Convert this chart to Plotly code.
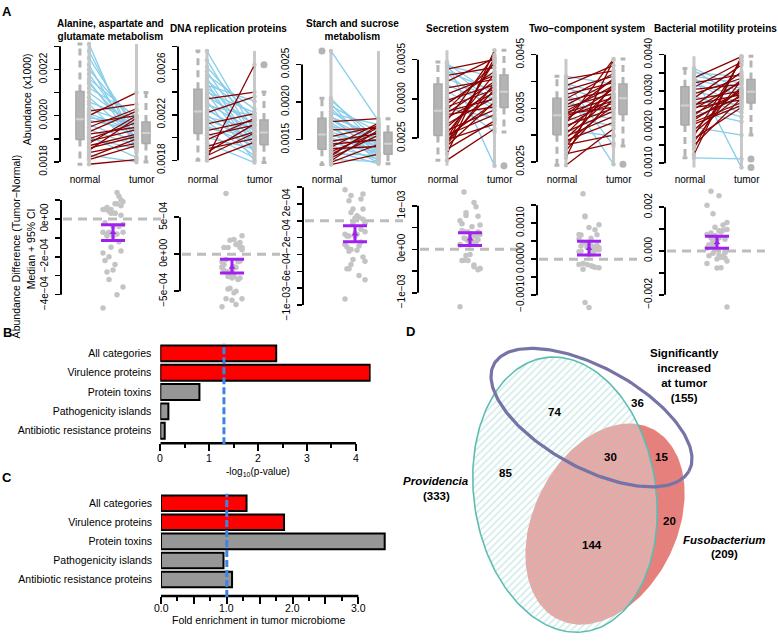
import numpy as np
import plotly.graph_objects as go

W, H = 778, 641
FONT = "Liberation Sans, Arial, Helvetica, sans-serif"

# ---------------- data ----------------
panel_titles = ["Alanine, aspartate and<br>glutamate metabolism", "DNA replication proteins",
                "Starch and sucrose<br>metabolism", "Secretion system",
                "Two\u2212component system", "Bacterial motility proteins"]
group_labels = ["normal", "tumor"]

normal_alanine = [0.00231, 0.00228, 0.00225, 0.00222, 0.00220, 0.00218, 0.00216, 0.00215, 0.00214, 0.00212,
                  0.00210, 0.00208, 0.00206, 0.00205, 0.00203, 0.00202, 0.00201, 0.00200, 0.00200, 0.00199,
                  0.00198, 0.00197, 0.00196, 0.00195, 0.00194, 0.00193, 0.00192, 0.00191, 0.00190, 0.00190,
                  0.00189, 0.00188, 0.00187, 0.00186, 0.00185, 0.00184, 0.00183, 0.00182, 0.00181, 0.00179]
tumor_alanine = [0.00184, 0.00188, 0.00193, 0.00186, 0.00196, 0.00190, 0.00199, 0.00188, 0.00192, 0.00200,
                 0.00195, 0.00190, 0.00198, 0.00185, 0.00196, 0.00205, 0.00193, 0.00210, 0.00191, 0.00197,
                 0.00194, 0.00200, 0.00189, 0.00203, 0.00187, 0.00202, 0.00195, 0.00182, 0.00197, 0.00186,
                 0.00194, 0.00200, 0.00192, 0.00191, 0.00199, 0.00188, 0.00180, 0.00190, 0.00187, 0.00181]

normal_dna = [0.00276, 0.00268, 0.00262, 0.00258, 0.00255, 0.00252, 0.00250, 0.00248, 0.00246, 0.00244,
              0.00242, 0.00240, 0.00238, 0.00236, 0.00234, 0.00232, 0.00230, 0.00228, 0.00226, 0.00224,
              0.00222, 0.00220, 0.00218, 0.00216, 0.00214, 0.00212, 0.00210, 0.00208, 0.00206, 0.00204,
              0.00202, 0.00200, 0.00198, 0.00195, 0.00192, 0.00190, 0.00187, 0.00184, 0.00182, 0.00180]
tumor_dna = [0.00205, 0.00200, 0.00215, 0.00198, 0.00225, 0.00192, 0.00218, 0.00186, 0.00232, 0.00210,
             0.00196, 0.00222, 0.00188, 0.00212, 0.00240, 0.00180, 0.00206, 0.00219, 0.00194, 0.00202,
             0.00236, 0.00190, 0.00208, 0.00198, 0.00184, 0.00221, 0.00193, 0.00201, 0.00215, 0.00182,
             0.00211, 0.00190, 0.00217, 0.00178, 0.00205, 0.00199, 0.00212, 0.00204, 0.00264, 0.00196]

normal_starch = [0.00268, 0.00205, 0.00202, 0.00198, 0.00195, 0.00192, 0.00188, 0.00185, 0.00182, 0.00180,
                 0.00178, 0.00176, 0.00174, 0.00172, 0.00170, 0.00168, 0.00166, 0.00163, 0.00160, 0.00158,
                 0.00156, 0.00154, 0.00152, 0.00150, 0.00148, 0.00146, 0.00144, 0.00142, 0.00140, 0.00138,
                 0.00136, 0.00134, 0.00132, 0.00130, 0.00128, 0.00126, 0.00124, 0.00122, 0.00120, 0.00117]
tumor_starch = [0.00175, 0.00140, 0.00150, 0.00128, 0.00160, 0.00135, 0.00145, 0.00170, 0.00125, 0.00155,
                0.00132, 0.00148, 0.00178, 0.00138, 0.00122, 0.00152, 0.00130, 0.00165, 0.00142, 0.00127,
                0.00146, 0.00168, 0.00136, 0.00120, 0.00158, 0.00133, 0.00150, 0.00124, 0.00172, 0.00141,
                0.00118, 0.00160, 0.00129, 0.00167, 0.00170, 0.00156, 0.00121, 0.00163, 0.00144, 0.00131]

normal_secretion = [0.00347, 0.00345, 0.00342, 0.00340, 0.00338, 0.00335, 0.00332, 0.00330, 0.00326, 0.00322,
                    0.00318, 0.00314, 0.00310, 0.00306, 0.00302, 0.00298, 0.00294, 0.00290, 0.00288, 0.00286,
                    0.00284, 0.00282, 0.00280, 0.00276, 0.00272, 0.00268, 0.00264, 0.00260, 0.00256, 0.00254,
                    0.00252, 0.00250, 0.00248, 0.00246, 0.00244, 0.00242, 0.00240, 0.00236, 0.00230, 0.00222]
tumor_secretion = [0.00215, 0.00305, 0.00328, 0.00296, 0.00350, 0.00310, 0.00285, 0.00340, 0.00300, 0.00352,
                   0.00292, 0.00325, 0.00274, 0.00330, 0.00258, 0.00318, 0.00335, 0.00312, 0.00276, 0.00345,
                   0.00300, 0.00322, 0.00290, 0.00308, 0.00356, 0.00302, 0.00316, 0.00286, 0.00332, 0.00280,
                   0.00295, 0.00348, 0.00268, 0.00312, 0.00352, 0.00320, 0.00296, 0.00272, 0.00362, 0.00262]

normal_twocomp = [0.00410, 0.00405, 0.00400, 0.00396, 0.00392, 0.00388, 0.00384, 0.00380, 0.00376, 0.00372,
                  0.00368, 0.00364, 0.00360, 0.00356, 0.00352, 0.00348, 0.00345, 0.00342, 0.00340, 0.00338,
                  0.00336, 0.00333, 0.00330, 0.00326, 0.00322, 0.00318, 0.00314, 0.00310, 0.00306, 0.00302,
                  0.00298, 0.00294, 0.00290, 0.00286, 0.00282, 0.00278, 0.00272, 0.00265, 0.00258, 0.00244]
tumor_twocomp = [0.00395, 0.00420, 0.00280, 0.00372, 0.00430, 0.00360, 0.00410, 0.00246, 0.00398, 0.00350,
                 0.00415, 0.00385, 0.00340, 0.00402, 0.00378, 0.00330, 0.00392, 0.00370, 0.00352, 0.00405,
                 0.00364, 0.00318, 0.00386, 0.00360, 0.00442, 0.00350, 0.00372, 0.00298, 0.00345, 0.00390,
                 0.00335, 0.00376, 0.00324, 0.00355, 0.00300, 0.00396, 0.00368, 0.00285, 0.00440, 0.00312]

normal_motility = [0.00362, 0.00356, 0.00350, 0.00344, 0.00340, 0.00336, 0.00332, 0.00328, 0.00322, 0.00316,
                   0.00310, 0.00304, 0.00298, 0.00292, 0.00286, 0.00280, 0.00275, 0.00270, 0.00265, 0.00262,
                   0.00258, 0.00254, 0.00250, 0.00244, 0.00238, 0.00232, 0.00226, 0.00220, 0.00214, 0.00208,
                   0.00200, 0.00192, 0.00184, 0.00176, 0.00168, 0.00160, 0.00150, 0.00140, 0.00124, 0.00115]
tumor_motility = [0.00305, 0.00280, 0.00340, 0.00088, 0.00322, 0.00395, 0.00300, 0.00250, 0.00345, 0.00290,
                  0.00380, 0.00318, 0.00270, 0.00335, 0.00240, 0.00372, 0.00300, 0.00262, 0.00228, 0.00290,
                  0.00352, 0.00275, 0.00325, 0.00215, 0.00296, 0.00330, 0.00285, 0.00302, 0.00268, 0.00260,
                  0.00178, 0.00310, 0.00292, 0.00385, 0.00255, 0.00330, 0.00280, 0.00392, 0.00396, 0.00112]

diff_median = [-0.72e-4, -1.77e-4, -1.55e-4, 2.4e-4, 3.0e-4, 3.7e-4]
diff_ci_low = [-1.14e-4, -2.52e-4, -2.49e-4, 0.9e-4, 1.17e-4, 1.2e-4]
diff_ci_high = [-0.31e-4, -0.66e-4, -0.58e-4, 3.8e-4, 5.0e-4, 6.7e-4]

top_tickvals = [
    [0.0018, 0.0019, 0.0020, 0.0021, 0.0022, 0.0023],
    [0.0018, 0.0020, 0.0022, 0.0024, 0.0026, 0.0028],
    [0.0015, 0.0020, 0.0025],
    [0.0025, 0.0030, 0.0035],
    [0.0025, 0.0030, 0.0035, 0.0040, 0.0045],
    [0.0010, 0.0015, 0.0020, 0.0025, 0.0030, 0.0035, 0.0040],
]
top_ticktext = [
    ["0.0018", " ", "0.0020", " ", "0.0022", " "],
    ["0.0018", " ", "0.0022", " ", "0.0026", " "],
    ["0.0015", "0.0020", "0.0025"],
    ["0.0025", "0.0030", "0.0035"],
    ["0.0025", " ", "0.0035", " ", "0.0045"],
    ["0.0010", " ", "0.0020", " ", "0.0030", " ", "0.0040"],
]
M = "\u2212"
bot_tickvals = [
    [-4e-4, -3e-4, -2e-4, -1e-4, 0, 1e-4],
    [-5e-4, 0, 5e-4],
    [-1e-3, -8e-4, -6e-4, -4e-4, -2e-4, 0, 2e-4, 4e-4],
    [-1e-3, -5e-4, 0, 5e-4, 1e-3],
    [-1e-3, -5e-4, 0, 5e-4, 1e-3, 1.5e-3],
    [-2e-3, -1e-3, 0, 1e-3, 2e-3],
]
bot_ticktext = [
    [M + "4e" + M + "04", " ", M + "2e" + M + "04", " ", "0e+00", " "],
    [M + "5e" + M + "04", "0e+00", "5e" + M + "04"],
    [M + "1e" + M + "03", " ", M + "6e" + M + "04", " ", M + "2e" + M + "04", " ", "2e" + M + "04", " "],
    [M + "1e" + M + "03", " ", "0e+00", " ", "1e" + M + "03"],
    [M + "0.0010", " ", "0.0000", " ", "0.0010", " "],
    [M + "0.002", " ", "0.000", " ", "0.002"],
]

categories = ["All categories", "Virulence proteins", "Protein toxins",
              "Pathogenicity islands", "Antibiotic resistance proteins"]
neglog_p = [2.37, 4.29, 0.80, 0.165, 0.09]
fold_enrichment = [1.30, 1.87, 3.40, 0.95, 1.08]
significant = [True, True, False, False, False]
p_threshold = 1.301
fold_ref = 1.0
b_ticks = [0, 1, 2, 3, 4]
b_ticktext = ["0", "1", "2", "3", "4"]
c_ticks = [0, 1, 2, 3]
c_ticktext = ["0.0", "1.0", "2.0", "3.0"]

venn_counts = [85, 74, 36, 30, 15, 144, 20]
venn_sets = ["Providencia", "Fusobacterium", "Significantly<br>increased<br>at tumor"]
venn_set_sizes = [333, 209, 155]

# ---------------- helpers ----------------
fig = go.Figure()
lay = dict(width=W, height=H, margin=dict(l=0, r=0, t=0, b=0), paper_bgcolor="white",
           plot_bgcolor="white", showlegend=False, font=dict(family=FONT, size=10, color="black"))
shapes, annos = [], []


def names(n):
    s = "" if n == 1 else str(n)
    return "x" + s, "y" + s, "xaxis" + s, "yaxis" + s


def dom_x(p0, p1):
    return [p0 / W, p1 / W]


def dom_y(top, bottom):
    return [1 - bottom / H, 1 - top / H]


def ann(text, x, y, size=10, bold=False, angle=0, xanchor="center", color="black"):
    t = "<b>" + text + "</b>" if bold else text
    annos.append(dict(text=t, x=x / W, y=1 - y / H, xref="paper", yref="paper", showarrow=False,
                      xanchor=xanchor, yanchor="middle", textangle=angle,
                      font=dict(size=size, family=FONT, color=color)))


BOXC = "#b4b4b4"
PTC = "#c4c4c4"


def add_box(v, xc, hw, xr, yr):
    v = np.sort(np.asarray(v))
    q1, med, q3 = np.percentile(v, [25, 50, 75])
    iqr = q3 - q1
    hiw = v[v <= q3 + 1.5 * iqr].max()
    low = v[v >= q1 - 1.5 * iqr].min()
    out = v[(v > hiw) | (v < low)]
    fig.add_trace(go.Scatter(x=[xc, xc, None, xc, xc], y=[q3, hiw, None, q1, low], mode="lines",
                             line=dict(color=BOXC, width=3, dash="7px,5px"), xaxis=xr, yaxis=yr,
                             hoverinfo="skip"))
    cw = hw * 0.6
    fig.add_trace(go.Scatter(x=[xc - cw, xc + cw, None, xc - cw, xc + cw], y=[hiw, hiw, None, low, low],
                             mode="lines", line=dict(color=BOXC, width=3), xaxis=xr, yaxis=yr,
                             hoverinfo="skip"))
    fig.add_trace(go.Scatter(x=[xc - hw, xc + hw, xc + hw, xc - hw, xc - hw], y=[q1, q1, q3, q3, q1],
                             mode="lines", fill="toself", fillcolor=BOXC, line=dict(color="#a9a9a9", width=1.5),
                             xaxis=xr, yaxis=yr, hoverinfo="skip"))
    fig.add_trace(go.Scatter(x=[xc - hw, xc + hw], y=[med, med], mode="lines",
                             line=dict(color="#d2d2d2", width=2), xaxis=xr, yaxis=yr, hoverinfo="skip"))
    if len(out):
        fig.add_trace(go.Scatter(x=[xc] * len(out), y=out, mode="markers", cliponaxis=False,
                                 marker=dict(color=BOXC, size=7), xaxis=xr, yaxis=yr, hoverinfo="skip"))


normals = [normal_alanine, normal_dna, normal_starch, normal_secretion, normal_twocomp, normal_motility]
tumors = [tumor_alanine, tumor_dna, tumor_starch, tumor_secretion, tumor_twocomp, tumor_motility]

# ---------------- panel A top row ----------------
top_axis_px = [60, 178, 302, 418, 537, 665]
top_yrange = [[0.001770, 0.002322], [0.001725, 0.002846], [0.001113, 0.002808],
              [0.002109, 0.003734], [0.002372, 0.004751], [0.000845, 0.004372]]

for i in range(6):
    n = i + 1
    xr, yr, xk, yk = names(n)
    ax = top_axis_px[i]
    lay[xk] = dict(domain=dom_x(ax, ax + 98), range=[0.39, 2.453], anchor=yr, showgrid=False,
                   zeroline=False, showline=False, ticks="", tickmode="array", tickvals=[0.915, 2.11],
                   ticktext=group_labels, ticklabelstandoff=3, tickfont=dict(size=10))
    lay[yk] = dict(domain=dom_y(38, 168), range=top_yrange[i], anchor=xr, showgrid=False, zeroline=False,
                   showline=False, ticks="outside", ticklen=5, tickwidth=1.5, tickcolor="black",
                   tickmode="array", tickvals=top_tickvals[i], ticktext=top_ticktext[i], tickangle=-90,
                   ticklabelstandoff=3, tickfont=dict(size=10))
    shapes.append(dict(type="line", xref=xr + " domain", x0=0, x1=0, yref=yr,
                       y0=min(top_tickvals[i]), y1=max(top_tickvals[i]), line=dict(color="black", width=2)))
    nv = np.array(normals[i])
    tv = np.array(tumors[i])
    lo = min(nv.min(), tv.min())
    hi = max(nv.max(), tv.max())
    fig.add_trace(go.Scatter(x=[1, 1, None, 2, 2], y=[lo, hi, None, lo, hi], mode="lines",
                             line=dict(color="#c8c8c8", width=3), xaxis=xr, yaxis=yr, hoverinfo="skip"))
    for mask, col in [(tv <= nv, "#87ceeb"), (tv > nv, "#8b0000")]:
        xs, ys = [], []
        for a, b in zip(nv[mask], tv[mask]):
            xs += [1, 2, None]
            ys += [a, b, None]
        fig.add_trace(go.Scatter(x=xs, y=ys, mode="lines", line=dict(color=col, width=1.3),
                                 xaxis=xr, yaxis=yr, hoverinfo="skip"))
    fig.add_trace(go.Scatter(x=[1] * len(nv) + [2] * len(tv), y=list(nv) + list(tv), mode="markers",
                             cliponaxis=False, marker=dict(color=PTC, size=4.5), xaxis=xr, yaxis=yr,
                             hoverinfo="skip"))
    add_box(nv, 0.81, 0.085, xr, yr)
    add_box(tv, 2.20, 0.085, xr, yr)
    ann(panel_titles[i], ax + 50, 26 if "<br>" in panel_titles[i] else 25, size=10, bold=True)

# ---------------- panel A bottom row ----------------
bot_axis_px = [61, 180, 303, 418, 537, 665]
bot_yrange = [[-4.92e-4, 1.71e-4], [-7.82e-4, 9.15e-4], [-10.85e-4, 4.08e-4],
              [-1.445e-3, 1.445e-3], [-1.47e-3, 2.02e-3], [-2.79e-3, 2.94e-3]]
for i in range(6):
    n = i + 7
    xr, yr, xk, yk = names(n)
    ax = bot_axis_px[i]
    lay[xk] = dict(domain=dom_x(ax, ax + 100), range=[0.48, 1.48], anchor=yr, showgrid=False,
                   zeroline=False, showline=False, showticklabels=False, ticks="")
    lay[yk] = dict(domain=dom_y(186, 314), range=bot_yrange[i], anchor=xr, showgrid=False, zeroline=False,
                   showline=False, ticks="outside", ticklen=5, tickwidth=1.5, tickcolor="black",
                   tickmode="array", tickvals=bot_tickvals[i], ticktext=bot_ticktext[i], tickangle=-90,
                   ticklabelstandoff=3, tickfont=dict(size=10))
    shapes.append(dict(type="line", xref=xr + " domain", x0=0, x1=0, yref=yr,
                       y0=min(bot_tickvals[i]), y1=max(bot_tickvals[i]), line=dict(color="black", width=2)))
    shapes.append(dict(type="line", xref=xr + " domain", x0=0.02, x1=1, yref=yr, y0=0, y1=0, layer="below",
                       line=dict(color="#bdbdbd", width=3, dash="9px,6px")))
    d = np.array(tumors[i]) - np.array(normals[i])
    jit = [1 + ((k * 7) % 11 - 5) / 5 * 0.1 for k in range(len(d))]
    fig.add_trace(go.Scatter(x=jit, y=d, mode="markers", cliponaxis=False,
                             marker=dict(color=PTC, size=5.5), xaxis=xr, yaxis=yr, hoverinfo="skip"))
    fig.add_trace(go.Scatter(x=[1], y=[diff_median[i]], mode="markers",
                             marker=dict(color="#a020f0", size=6, symbol="triangle-up"),
                             error_y=dict(type="data", symmetric=False,
                                          array=[diff_ci_high[i] - diff_median[i]],
                                          arrayminus=[diff_median[i] - diff_ci_low[i]],
                                          color="#a020f0", thickness=3, width=12),
                             xaxis=xr, yaxis=yr, hoverinfo="skip"))

# ---------------- panels B and C ----------------
bar_colors = ["#ff0000" if s else "#979797" for s in significant]
for n, vals, xrng, majv, minv, dom, ybot, thr, step, lab_y in [
        (13, neglog_p, [0, 4.3], b_ticks, [0.5, 1.5, 2.5, 3.5],
         (160.3, 370.6), (346.2, 447.7), p_threshold, 19.7, 463),
        (14, fold_enrichment, [0, 3.45], [0, 0.5, 1, 1.5, 2, 2.5, 3],
         [0.25, 0.75, 1.25, 1.75, 2.25, 2.75], (161, 388), (499, 603.3), fold_ref, 19.45, 616)]:
    xr, yr, xk, yk = names(n)
    nb = (ybot[1] - ybot[0]) / step
    lay[xk] = dict(domain=dom_x(*dom), range=xrng, anchor=yr, showgrid=False, zeroline=False,
                   showline=False, ticks="outside", ticklen=7, tickwidth=2, tickcolor="black",
                   tickmode="array", tickvals=majv, showticklabels=False,
                   minor=dict(tickmode="array", tickvals=minv, ticks="outside", ticklen=4, tickwidth=2,
                              tickcolor="black", showgrid=False))
    lay[yk] = dict(domain=dom_y(*ybot), range=[nb - 0.5, -0.5], anchor=xr, type="category",
                   categoryorder="array", categoryarray=categories, showgrid=False, zeroline=False,
                   showline=False, ticks="", ticklabelstandoff=8, tickfont=dict(size=10.5))
    fig.add_trace(go.Bar(x=vals, y=categories, orientation="h", width=0.82,
                         marker=dict(color=bar_colors, line=dict(color="black", width=2)),
                         xaxis=xr, yaxis=yr, hoverinfo="skip"))
    shapes.append(dict(type="line", xref=xr, x0=0, x1=majv[-1], yref=yr + " domain", y0=0, y1=0,
                       line=dict(color="black", width=2.5)))
    shapes.append(dict(type="line", xref=xr, x0=thr, x1=thr, yref="paper",
                       y0=1 - (ybot[1] + 1) / H, y1=1 - (ybot[0]) / H, layer="above",
                       line=dict(color="#3a84e6", width=3, dash="7px,3px")))
    tv_list = b_ticks if n == 13 else c_ticks
    tt_list = b_ticktext if n == 13 else c_ticktext
    for v, t in zip(tv_list, tt_list):
        annos.append(dict(text=t, x=v, y=1 - lab_y / H, xref=xr, yref="paper", showarrow=False,
                          xanchor="center", yanchor="middle", font=dict(size=10.5, family=FONT)))

ann("-log<sub>10</sub>(p-value)", 258, 477, size=10)
ann("Fold enrichment in tumor microbiome", 258, 628, size=10.5)

# ---------------- panel D (Venn) ----------------
xr, yr, xk, yk = names(15)
lay[xk] = dict(domain=dom_x(400, 778), range=[400, 778], anchor=yr, visible=False)
lay[yk] = dict(domain=dom_y(330, 641), range=[641, 330], anchor=xr, visible=False)


def ellipse(cx, cy, rx, ry, ang, n=200):
    t = np.linspace(0, 2 * np.pi, n)
    a = np.deg2rad(ang)
    x = cx + rx * np.cos(t) * np.cos(a) - ry * np.sin(t) * np.sin(a)
    y = cy + rx * np.cos(t) * np.sin(a) + ry * np.sin(t) * np.cos(a)
    return x, y


ex, ey = ellipse(605, 530, 72, 108, 25)
fig.add_trace(go.Scatter(x=ex, y=ey, mode="lines", fill="toself", fillcolor="#e5807d",
                         line=dict(width=0), xaxis=xr, yaxis=yr, hoverinfo="skip"))
ex, ey = ellipse(565, 500, 91, 141, -8)
fig.add_trace(go.Scatter(x=ex, y=ey, mode="lines", fill="toself", fillcolor="rgba(255,255,255,0.3)",
                         fillpattern=dict(shape="/", fgcolor="rgba(140,208,200,0.85)",
                                          bgcolor="rgba(255,255,255,0.3)", size=5, solidity=0.3),
                         line=dict(color="#5cbdb2", width=1.6), xaxis=xr, yaxis=yr, hoverinfo="skip"))
ex, ey = ellipse(591.5, 421.5, 111.7, 51, 29.4)
fig.add_trace(go.Scatter(x=ex, y=ey, mode="lines", line=dict(color="#7673a6", width=3.2),
                         xaxis=xr, yaxis=yr, hoverinfo="skip"))

count_pos = [(505.7, 477.7), (554.3, 415.7), (637.3, 406.7), (610, 461.7), (661, 461.7),
             (592.3, 551), (669.3, 526.7)]
for c, (px, py) in zip(venn_counts, count_pos):
    ann(str(c), px, py, size=11.5, bold=True)

ann(venn_sets[2] + "<br>(" + str(venn_set_sizes[2]) + ")", 684, 379, size=11.5, bold=True)
ann("<i>" + venn_sets[0] + "</i>", 436, 486, size=11.5, bold=True)
ann("(" + str(venn_set_sizes[0]) + ")", 436, 501, size=11.5, bold=True)
ann("<i>" + venn_sets[1] + "</i>", 724, 546, size=11.5, bold=True)
ann("(" + str(venn_set_sizes[1]) + ")", 724, 560, size=11.5, bold=True)

# ---------------- labels ----------------
ann("A", 7, 8, size=13, bold=True)
ann("B", 7, 335, size=13, bold=True)
ann("C", 7, 483, size=13, bold=True)
ann("D", 411, 334, size=13, bold=True)
ann("Abundance (x1000)", 27, 97, size=10.5, angle=-90)
ann("Abundance Difference (Tumor\u2212Normal)", 16, 247, size=10.5, angle=-90)
ann("Median + 95% CI", 31, 250, size=10.5, angle=-90)

lay["shapes"] = shapes
lay["annotations"] = annos
fig.update_layout(**lay)
fig.write_html("out.html", config={"displayModeBar": False, "staticPlot": True},
               post_script="document.body.style.margin='0';document.body.style.overflow='hidden';")
